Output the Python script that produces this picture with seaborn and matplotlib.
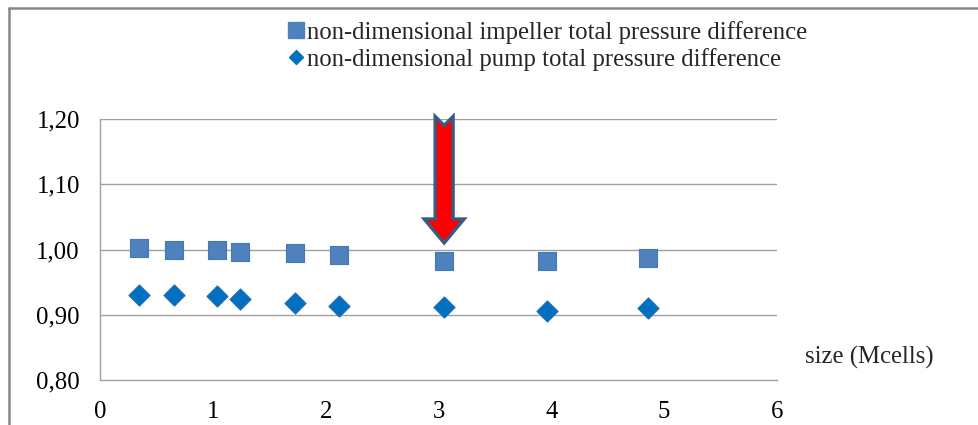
import numpy as np
import pandas as pd
import seaborn as sns
import matplotlib
matplotlib.use('Agg')
import matplotlib.pyplot as plt
from matplotlib.patches import Polygon
from matplotlib.lines import Line2D
from matplotlib.ticker import FuncFormatter

# mesh size (Mcells) and the two non-dimensional pressure differences
mesh_size = [0.345, 0.655, 1.035, 1.24, 1.73, 2.12, 3.05, 3.96, 4.86]
impeller_dp = [1.003, 0.999, 0.999, 0.996, 0.994, 0.992, 0.983, 0.983, 0.987]
pump_dp = [0.930, 0.930, 0.928, 0.924, 0.918, 0.913, 0.912, 0.906, 0.911]

impeller_label = 'non-dimensional impeller total pressure difference'
pump_label = 'non-dimensional pump total pressure difference'

# chosen mesh (arrow)
chosen_mesh = 3.05
arrow_top = 1.204
arrow_tip = 1.010

x_ticks = [0, 1, 2, 3, 4, 5, 6]
y_ticks = [0.80, 0.90, 1.00, 1.10, 1.20]

df = pd.DataFrame({
    'size': mesh_size * 2,
    'value': impeller_dp + pump_dp,
    'series': [impeller_label] * len(mesh_size) + [pump_label] * len(mesh_size),
})

FS = 17.8

sns.set_style('white')
plt.rcParams['font.family'] = ['Liberation Serif', 'DejaVu Serif']
plt.rcParams['font.size'] = FS

fig = plt.figure(figsize=(9.79, 4.25), dpi=100)
ax = fig.add_axes([100 / 979, 1 - 380 / 425, 677 / 979, 261 / 425])

grid_col = '#A0A0A0'
for yv in y_ticks[1:]:
    ax.axhline(yv, color=grid_col, lw=1.0, zorder=0)

sns.scatterplot(data=df[df.series == impeller_label], x='size', y='value', ax=ax,
                marker='s', s=165, color='#4F81BD', edgecolor='#4576B5', linewidth=0.8,
                label=impeller_label, zorder=3)
sns.scatterplot(data=df[df.series == pump_label], x='size', y='value', ax=ax,
                marker='D', s=115, color='#0070C0', edgecolor='#1F6AB5', linewidth=0.8,
                label=pump_label, zorder=3)

ax.set_xlim(0, 6)
ax.set_ylim(0.80, 1.20)
ax.set_xticks(x_ticks)
ax.set_yticks(y_ticks)
ax.yaxis.set_major_formatter(FuncFormatter(lambda v, p: f'{v:.2f}'.replace('.', ',')))

for side in ['top', 'right']:
    ax.spines[side].set_visible(False)
for side in ['left', 'bottom']:
    ax.spines[side].set_color(grid_col)
    ax.spines[side].set_linewidth(1.0)
ax.tick_params(axis='both', direction='out', width=1.0, color=grid_col,
               labelsize=FS, labelcolor='black')
ax.tick_params(axis='x', length=6, pad=9)
ax.tick_params(axis='y', length=4.5, pad=10)
ax.set_ylabel('')
ax.set_xlabel('size (Mcells)', fontsize=FS)
ax.xaxis.set_label_coords(1.137, 0.088)
ax.xaxis.label.set_ha('center')
ax.xaxis.label.set_va('center')

# red arrow pointing at the chosen mesh
px_x = 677 / 6.0
px_y = 261 / 0.40
half_shaft = 9 / px_x
half_head = 20 / px_x
head_len = 24 / px_y
notch = 9 / px_y
head_base = arrow_tip + head_len
arrow_pts = [
    (chosen_mesh - half_shaft, arrow_top),
    (chosen_mesh, arrow_top - notch),
    (chosen_mesh + half_shaft, arrow_top),
    (chosen_mesh + half_shaft, head_base),
    (chosen_mesh + half_head, head_base),
    (chosen_mesh, arrow_tip),
    (chosen_mesh - half_head, head_base),
    (chosen_mesh - half_shaft, head_base),
]
ax.add_patch(Polygon(arrow_pts, closed=True, facecolor='#FF0000', edgecolor='#3A5A85',
                     linewidth=2.4, joinstyle='miter', clip_on=False, zorder=4))

handles, labels = ax.get_legend_handles_labels()
leg_handles = [
    Line2D([], [], marker='s', linestyle='none', markersize=11.5, color='#4F81BD'),
    Line2D([], [], marker='D', linestyle='none', markersize=7, color='#0070C0'),
]
fig.legend(leg_handles, labels, loc='upper left', bbox_to_anchor=(277 / 979, 1 - 11 / 425),
           frameon=False, handlelength=0.7, handletextpad=0.1, labelspacing=0.15,
           fontsize=FS, borderaxespad=0)
ax.get_legend().remove()

# outer chart frame (only top and left edges are visible)
frame_col = '#878787'
fig.add_artist(Line2D([9 / 979, 1], [1 - 8 / 425, 1 - 8 / 425], color=frame_col, lw=1.8,
                      transform=fig.transFigure))
fig.add_artist(Line2D([9 / 979, 9 / 979], [0, 1 - 8 / 425], color=frame_col, lw=1.8,
                      transform=fig.transFigure))

fig.savefig('out.png', dpi=100)
